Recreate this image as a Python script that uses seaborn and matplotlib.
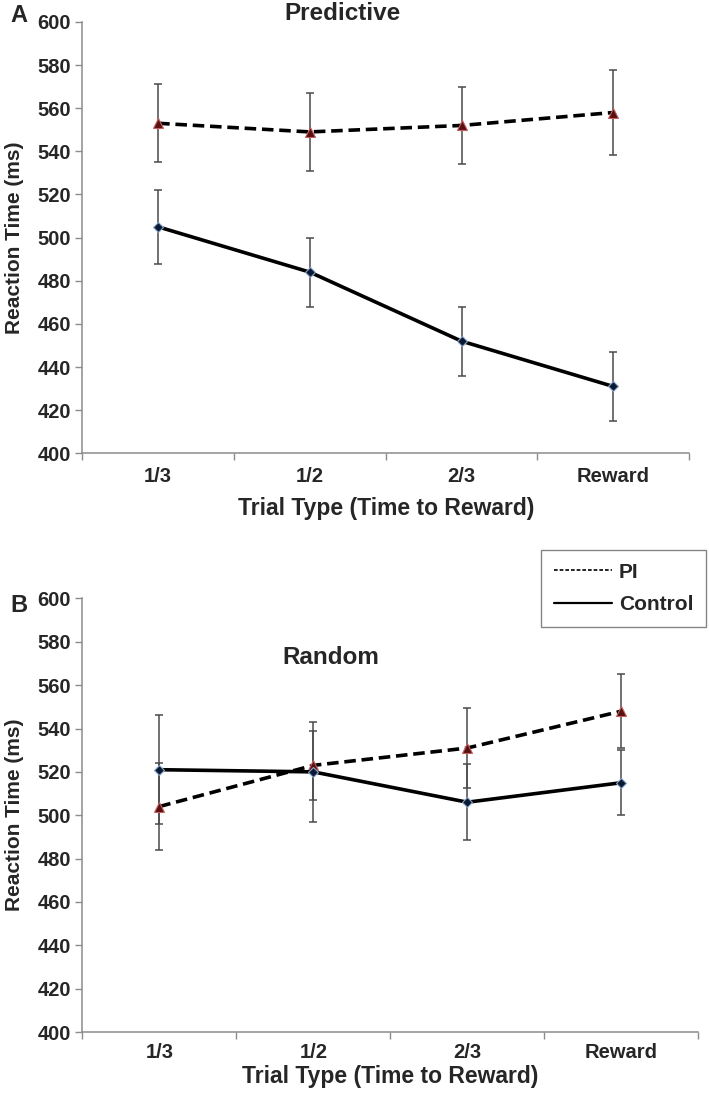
import numpy as np
import pandas as pd
import matplotlib
matplotlib.use("Agg")
import matplotlib.pyplot as plt
from matplotlib.lines import Line2D
import seaborn as sns

# categories on the x axis
trial_types = ["1/3", "1/2", "2/3", "Reward"]

# Predictive condition (panel A)
pred_pi = [553, 549, 552, 558]
pred_pi_err = [18, 18, 18, 19.5]
pred_ctrl = [505, 484, 452, 431]
pred_ctrl_err = [17, 16, 16, 16]

# Random condition (panel B)
rand_pi = [504, 523, 531, 548]
rand_pi_err = [20, 16, 18.5, 17]
rand_ctrl = [521, 520, 506, 515]
rand_ctrl_err = [25, 23, 17.5, 15]

sns.set_style("white")
plt.rcParams["font.family"] = ["Liberation Sans", "DejaVu Sans"]
plt.rcParams["font.weight"] = "bold"

fig = plt.figure(figsize=(7.09, 10.95), dpi=100)
axA = fig.add_axes([0.116, 0.586, 0.856, 0.394])
axB = fig.add_axes([0.116, 0.0575, 0.869, 0.396])

spine_col = "#8c8c8c"


def draw_panel(ax, pi, pi_err, ctrl, ctrl_err, tick_pad, xlab_pad):
    x = np.arange(len(trial_types))
    df = pd.DataFrame({
        "x": np.concatenate([x, x]),
        "rt": pi + ctrl,
        "group": ["PI"] * len(x) + ["Control"] * len(x),
    })
    # error bars first so the lines sit on top
    ax.errorbar(x, ctrl, yerr=ctrl_err, fmt="none", ecolor="#4a4a4a",
                elinewidth=1.1, capsize=3, capthick=1.1, zorder=1)
    ax.errorbar(x, pi, yerr=pi_err, fmt="none", ecolor="#4a4a4a",
                elinewidth=1.1, capsize=3, capthick=1.1, zorder=1)
    sns.lineplot(data=df, x="x", y="rt", hue="group", style="group",
                 palette={"PI": "black", "Control": "black"},
                 dashes={"PI": (3.2, 1.6), "Control": ""},
                 markers={"PI": "^", "Control": "D"},
                 markersize=7, linewidth=2.6, legend=False, ax=ax, zorder=3)
    # recolour markers like the original (dark red triangles, navy diamonds)
    for line in ax.get_lines():
        if line.get_marker() == "^":
            line.set_markerfacecolor("#5a0f10")
            line.set_markeredgecolor("#c06060")
            line.set_markeredgewidth(0.8)
        elif line.get_marker() == "D":
            line.set_markersize(5)
            line.set_markerfacecolor("#0b1a33")
            line.set_markeredgecolor("#8aa6cc")
            line.set_markeredgewidth(0.8)

    ax.set_xlim(-0.5, len(trial_types) - 0.5)
    ax.set_ylim(400, 600)
    ax.set_yticks(np.arange(400, 601, 20))
    ax.set_xticks(x)
    ax.set_xticklabels(trial_types)
    ax.set_xticks(np.arange(-0.5, len(trial_types), 1.0), minor=True)
    ax.tick_params(axis="x", which="major", length=0, pad=tick_pad, labelsize=14.5)
    ax.tick_params(axis="x", which="minor", length=5, width=1, color=spine_col,
                   direction="out", bottom=True)
    ax.tick_params(axis="y", which="major", length=5, width=1, color=spine_col,
                   direction="out", left=True, labelsize=14.5, pad=3)
    for lab in ax.get_xticklabels() + ax.get_yticklabels():
        lab.set_fontweight("bold")
    ax.set_xlabel("Trial Type (Time to Reward)", fontsize=16.5, fontweight="bold",
                  labelpad=xlab_pad)
    ax.set_ylabel("Reaction Time (ms)", fontsize=15, fontweight="bold", labelpad=10)
    sns.despine(ax=ax)
    for s in ["left", "bottom"]:
        ax.spines[s].set_color(spine_col)
        ax.spines[s].set_linewidth(1.1)


draw_panel(axA, pred_pi, pred_pi_err, pred_ctrl, pred_ctrl_err, 10, 8)
draw_panel(axB, rand_pi, rand_pi_err, rand_ctrl, rand_ctrl_err, 8, 2)

fig.text(342 / 709, 1 - 14 / 1095, "Predictive", ha="center", va="center",
         fontsize=17.5, fontweight="bold")
fig.text(331 / 709, 1 - 657 / 1095, "Random", ha="center", va="center",
         fontsize=17.5, fontweight="bold")
fig.text(10 / 709, 1 - 16 / 1095, "A", ha="left", va="center",
         fontsize=17, fontweight="bold")
fig.text(10 / 709, 1 - 606 / 1095, "B", ha="left", va="center",
         fontsize=17, fontweight="bold")

handles = [
    Line2D([], [], color="black", lw=1.2, linestyle=(0, (2.2, 1.2))),
    Line2D([], [], color="black", lw=1.6),
]
leg = fig.legend(handles, ["PI", "Control"], loc="upper left",
                 bbox_to_anchor=(541 / 709, 1 - 550 / 1095),
                 frameon=True, fancybox=False, handlelength=2.8,
                 handletextpad=0.35, borderpad=0.6, labelspacing=0.65,
                 borderaxespad=0, prop={"weight": "bold", "size": 15})
leg.get_frame().set_edgecolor("#666666")
leg.get_frame().set_linewidth(1.0)

fig.savefig("out.png", dpi=100)
